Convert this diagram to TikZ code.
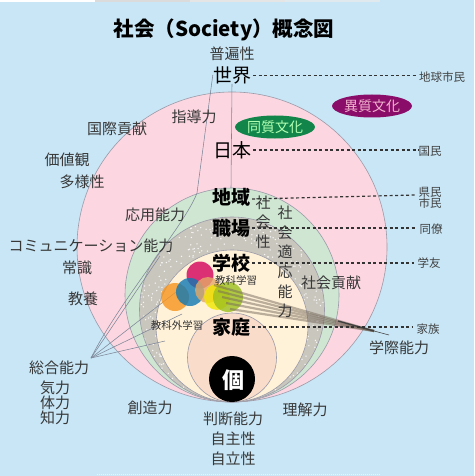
\documentclass[tikz,border=0pt]{standalone}
\usepackage{fontspec}
\usetikzlibrary{shapes.geometric}
\newfontfamily\jp{Noto Sans CJK JP}
\definecolor{bgc}{HTML}{C8E6F6}
\definecolor{pinkc}{HTML}{FCD7E1}
\definecolor{greenc}{HTML}{CFE6D2}
\definecolor{grayc}{HTML}{C9C6BE}
\definecolor{creamc}{HTML}{FFF2D9}
\definecolor{peachc}{HTML}{FADCCB}
\definecolor{ringc}{HTML}{9A9AA8}
\definecolor{magc}{HTML}{D2005A}
\definecolor{orgc}{HTML}{F7941D}
\definecolor{bluec}{HTML}{0F78B4}
\definecolor{tanc}{HTML}{E3A868}
\definecolor{yelc}{HTML}{F2E600}
\definecolor{limec}{HTML}{9DBF1E}
\definecolor{purc}{HTML}{8A0E69}
\definecolor{dgrc}{HTML}{12864A}
\definecolor{linec}{HTML}{7E8698}
\begin{document}
\begin{tikzpicture}[x=1pt,y=-1pt,
  lbl/.style={font=\jp\fontsize{15}{17}\selectfont, text=black!78, inner sep=0pt},
  big/.style={font=\jp\fontsize{19}{21}\selectfont, text=black, inner sep=0pt},
  bigb/.style={font=\jp\fontsize{19}{21}\selectfont\bfseries, text=black, inner sep=0pt},
  sm/.style={font=\jp\fontsize{11.5}{12.5}\selectfont, text=black!75, inner sep=0pt, align=center},
  tiny/.style={font=\jp\fontsize{10.5}{12}\selectfont, text=black!80, inner sep=0pt},
  vert/.style={font=\jp\fontsize{15}{19.6}\selectfont, text=black!78, inner sep=0pt, align=center},
  dotline/.style={line width=1.2pt, dash pattern=on 3pt off 2.5pt, black!80},
  conn/.style={line width=0.55pt, draw=linec},
  stripe/.style={line width=2.2pt, draw=black!45!brown!40!gray, opacity=0.5},
  ring/.style={draw=ringc, line width=0.6pt},
  blob/.style={fill opacity=0.8}]
\useasboundingbox (0,0) rectangle (474,476);
\fill[bgc] (0,0) rectangle (474,476);
% top strip
\fill[white] (0,0) rectangle (95,2);
\fill[black!14] (95,0) rectangle (190,2);
\fill[black!10] (190,0) rectangle (285,2);
\fill[bgc!70!gray!40] (285,0) rectangle (380,2);
\draw[white!60!bgc, line width=0.8pt, dash pattern=on 1pt off 1pt] (97,474.5) -- (380,474.5);
% circles
\filldraw[fill=pinkc, ring] (232,247) circle[radius=155pt];
\filldraw[fill=greenc, ring] (232,295) circle[radius=107pt];
\filldraw[fill=grayc, ring] (232,309.5) circle[radius=92.5pt];
\begin{scope}
  \clip (232,309.5) circle[radius=92pt];
  \pgfmathsetseed{42}
  \foreach \i in {1,...,700}{
    \pgfmathsetmacro\rr{92*sqrt(rnd)}
    \pgfmathsetmacro\aa{360*rnd}
    \fill[white, opacity=0.85] ({232+\rr*cos(\aa)},{309.5+\rr*sin(\aa)}) circle[radius=0.75pt];
  }
\end{scope}
\filldraw[fill=creamc, ring] (232,326) circle[radius=76pt];
\filldraw[fill=peachc, ring] (232,357.5) circle[radius=44.5pt];
\fill[black] (232,379) circle[radius=23pt];
% ellipses
\node[ellipse, fill=purc, minimum width=80pt, minimum height=23pt, inner sep=0pt,
  font=\jp\fontsize{14}{16}\selectfont, text=magc!30!white] (ishitsu) at (372,106) {異質文化};
\node[ellipse, fill=dgrc, minimum width=80pt, minimum height=23pt, inner sep=0pt,
  font=\jp\fontsize{14}{16}\selectfont, text=green!30!white] (doshitsu) at (275,127) {同質文化};
% main labels
\node[big] (sekai) at (232,75) {世界};
\node[big] (nihon) at (232,150) {日本};
\node[bigb] (chiiki) at (231,197) {地域};
\node[bigb] (shokuba) at (231,228) {職場};
\node[bigb] (gakko) at (231,263) {学校};
\node[bigb] (katei) at (231,327) {家庭};
\node[font=\jp\fontsize{22}{24}\selectfont\bfseries, text=white, inner sep=0pt] (ko) at (233,380) {個};
% connector lines on the left
\coordinate (F) at (91,358);
\coordinate (bend) at (197,193);
\coordinate (f2) at (160,256);
\coordinate (f3) at (176,292);
\coordinate (f4) at (182,314);
\coordinate (f5) at (165,341);
\draw[conn] (F) .. controls (120,300) and (185,225) .. (bend) -- (sekai.west);
\draw[conn] (sekai.south) -- (chiiki.north);
\draw[conn] (F) -- (f2);
\draw[conn] (F) -- (f3);
\draw[conn] (F) -- (f4);
\draw[conn] (F) -- (f5);
% coloured circles
\fill[orgc, blob] (175,297) circle[radius=14pt];
\fill[magc, blob] (200,275) circle[radius=13.5pt];
\fill[bluec, blob] (190,292) circle[radius=14pt];
\fill[tanc, blob] (208,290) circle[radius=13pt];
\fill[yelc, blob] (217,297) circle[radius=13pt];
\fill[limec, blob] (228,297) circle[radius=15pt];
% stripes to 学際能力
\coordinate (P) at (374,331);
\coordinate (b1) at (214,285);
\coordinate (b2) at (218,291);
\coordinate (b3) at (222,297);
\coordinate (b4) at (226,303);
\coordinate (b5) at (230,309);
\foreach \b in {b1,b2,b3,b4,b5}{\draw[stripe] (\b) -- (P);}
\coordinate (d1) at (338,321);
\coordinate (d2) at (389,335);
\draw[line width=1.3pt, black!75] (d1) -- (P);
\draw[line width=0.6pt, black!70] (P) -- (d2);
% dashed lines and right labels
\node[sm] (chikyu) at (442,77) {地球市民};
\node[sm] (kokumin) at (430,151) {国民};
\node[sm, font=\jp\fontsize{11.5}{11}\selectfont] (kenmin) at (430,198) {県民\\市民};
\node[sm] (doryo) at (431,229) {同僚};
\node[sm] (gakuyu) at (429,263) {学友};
\node[sm] (kazoku) at (428,329) {家族};
\draw[dotline, line width=1pt] (sekai.east) ++(2,1) -- (416,76);
\draw[dotline] ([xshift=2pt]nihon.east) -- (nihon.east -| kokumin.west) ++(-3,0);
\draw[dotline] ([xshift=2pt,yshift=-2pt]chiiki.east) -- ([xshift=-3pt]kenmin.west |- 0,195);
\draw[dotline] ([xshift=2pt]shokuba.east) -- ([xshift=-3pt]shokuba.east -| doryo.west);
\draw[dotline] ([xshift=2pt]gakko.east) -- ([xshift=-3pt]gakko.east -| gakuyu.west);
\draw[dotline] ([xshift=2pt]katei.east) -- ([xshift=-3pt]katei.east -| kazoku.west);
% title and other labels
\node[font=\jp\fontsize{20.5}{22}\selectfont\bfseries, inner sep=0pt] (title) at (224,30) {社会（Society）概念図};
\node[lbl] (fuhen) at (232,54) {普遍性};
\node[lbl] (shido) at (194,117) {指導力};
\node[lbl] (kokusai) at (117,129) {国際貢献};
\node[lbl] (kachi) at (67,160) {価値観};
\node[lbl] (tayo) at (82,182) {多様性};
\node[lbl] (oyo) at (155,215) {応用能力};
\node[lbl] (comm) at (91,246) {コミュニケーション能力};
\node[lbl] (joshiki) at (77,268) {常識};
\node[lbl] (kyoyo) at (83,299) {教養};
\node[vert] (shakaisei) at (263,222) {社\\会\\性};
\node[vert] (tekio) at (285,262) {社\\会\\適\\応\\能\\力};
\node[lbl] (koken) at (331,283) {社会貢献};
\node[tiny] (kyoka) at (236,280) {教科学習};
\node[tiny] (kyokagai) at (177,325) {教科外学習};
\node[lbl] (gakusai) at (399,348) {学際能力};
\node[lbl] (sougou) at (59,368) {総合能力};
\node[lbl] (kiryoku) at (55,388) {気力};
\node[lbl] (tairyoku) at (55,403) {体力};
\node[lbl] (chiryoku) at (55,418) {知力};
\node[lbl] (sozo) at (150,408) {創造力};
\node[lbl] (rikai) at (305,410) {理解力};
\node[lbl] (handan) at (233,419) {判断能力};
\node[lbl] (jishu) at (233,439) {自主性};
\node[lbl] (jiritsu) at (233,459) {自立性};
\end{tikzpicture}
\end{document}
